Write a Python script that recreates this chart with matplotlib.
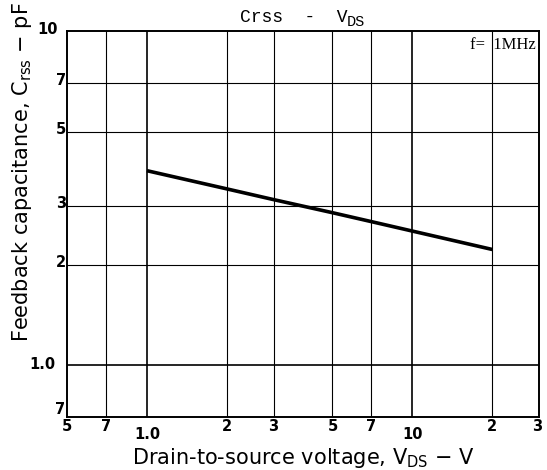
import matplotlib
matplotlib.use("Agg")
import matplotlib.pyplot as plt
from matplotlib.ticker import NullLocator, NullFormatter
from matplotlib.transforms import offset_copy

# Data
vds = [1.0, 2, 3, 5, 7, 10, 20]
crss = [3.82, 3.37, 3.13, 2.86, 2.69, 2.52, 2.22]

x_ticks = [0.5, 0.7, 1.0, 2, 3, 5, 7, 10, 20, 30]
x_labels = ["5", "7", "1.0", "2", "3", "5", "7", "10", "2", "3"]
y_ticks = [0.7, 1.0, 2, 3, 5, 7, 10]
y_labels = ["7", "1.0", "2", "3", "5", "7", "10"]

W, H = 547, 470
L, R, T, B = 67, 539, 31, 417
fig = plt.figure(figsize=(W / 100, H / 100), dpi=100)
ax = fig.add_axes([L / W, 1 - B / H, (R - L) / W, (B - T) / H])
ax.set_xscale("log")
ax.set_yscale("log")
ax.set_xlim(0.5, 30)
ax.set_ylim(0.7, 10)

for xv in x_ticks[1:-1]:
    ax.axvline(xv, color="black", lw=1.2 if xv in (1.0, 10) else 0.8, zorder=1)
for yv in y_ticks[1:-1]:
    ax.axhline(yv, color="black", lw=1.2 if yv == 1.0 else 0.8, zorder=1)

ax.plot(vds, crss, color="black", lw=2.6, zorder=3, solid_capstyle="butt")

ax.xaxis.set_major_locator(NullLocator())
ax.xaxis.set_minor_locator(NullLocator())
ax.yaxis.set_major_locator(NullLocator())
ax.yaxis.set_minor_locator(NullLocator())
ax.xaxis.set_major_formatter(NullFormatter())
ax.yaxis.set_major_formatter(NullFormatter())
for s in ax.spines.values():
    s.set_linewidth(1.4)

tick_font = dict(family=["DejaVu Sans"], fontweight="bold", fontsize=10.5)
xt = ax.get_xaxis_transform()
for xv, lab in zip(x_ticks, x_labels):
    low = lab in ("1.0", "10")
    dx = -2 if xv == 30 else 0
    tr = offset_copy(xt, fig=fig, x=dx * 0.72, y=(-10 if low else -2) * 0.72, units="points")
    ax.text(xv, 0, lab, transform=tr, ha="center", va="top", **tick_font)

yt = ax.get_yaxis_transform()
for yv, lab in zip(y_ticks, y_labels):
    if lab == "10":
        dx, dy = -9, 1
    elif lab == "1.0":
        dx, dy = -12, 1
    elif yv == 0.7:
        dx, dy = -2, 7
    else:
        dx, dy = -1, 2
    tr = offset_copy(yt, fig=fig, x=dx * 0.72, y=dy * 0.72, units="points")
    ax.text(0, yv, lab, transform=tr, ha="right", va="center", **tick_font)

# Title: "Crss - V" with a large, lowered "DS"
title_font = dict(family=["Liberation Mono", "DejaVu Sans Mono"], fontsize=13)
t_main = fig.text(0, 0, "Crss  -  V", ha="left", va="baseline", **title_font)
t_sub = fig.text(0, 0, "DS", ha="left", va="baseline",
                 family=title_font["family"], fontsize=11)
fig.canvas.draw()
rend = fig.canvas.get_renderer()
w_main = t_main.get_window_extent(rend).width
w_sub = t_sub.get_window_extent(rend).width
x0 = ((L + R) / 2 - (w_main + w_sub) / 2) / W
base = 1 - 22 / H
t_main.set_position((x0, base))
t_sub.set_position((x0 + (w_main - 1) / W, base - 4 / H))

ax.text(0.993, 0.985, "f=  1MHz", transform=ax.transAxes, ha="right", va="top",
        family=["Liberation Serif", "DejaVu Serif"], fontsize=12)

lab_font = dict(family=["DejaVu Sans"], fontsize=15)
ax.set_xlabel(r"Drain-to-source voltage, V$_{\mathregular{DS}}$ $-$ V", **lab_font)
ax.xaxis.set_label_coords(0.5, -(446 - B) / (B - T))
ax.set_ylabel(r"Feedback capacitance, C$_{\mathregular{rss}}$ $-$ pF", **lab_font)
ax.yaxis.set_label_coords(-(L - 34) / (R - L), (B - 172) / (B - T))

fig.savefig("out.png", dpi=100)
